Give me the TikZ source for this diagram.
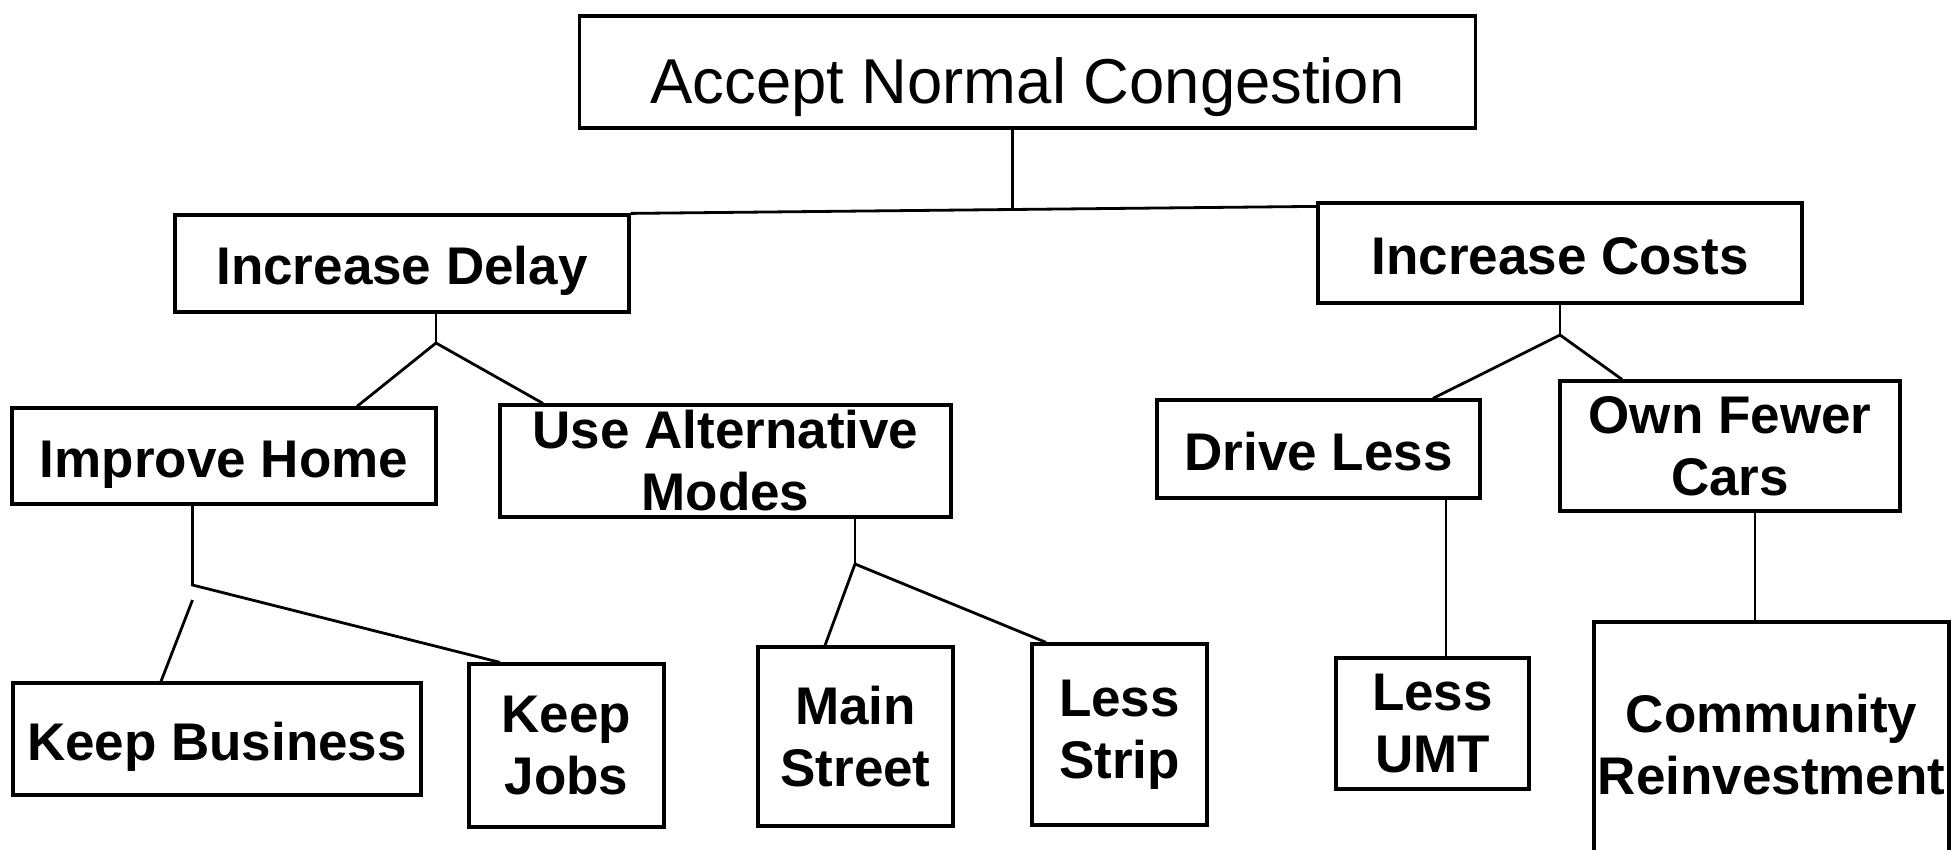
\documentclass[tikz,border=0pt]{standalone}
\usepackage{fontspec}
\setmainfont{Liberation Sans}
\usetikzlibrary{calc}
\newcommand{\lblfont}{\fontsize{26.5pt}{31pt}\selectfont\bfseries}
\newcommand{\topfont}{\fontsize{31.7pt}{36pt}\selectfont}
\tikzstyle{block} = [draw=black, rectangle, line width=1.6pt, inner sep=0pt, align=center, font=\lblfont]
\tikzstyle{single} = [text height=21pt, text depth=0pt]
\tikzstyle{link} = [draw=black, line width=1.4pt]

\begin{document}
\begin{tikzpicture}[x=0.5pt, y=-0.5pt]
	\path[use as bounding box, clip] (0,0) rectangle (1952,850);

	% GOAL
	\node[block, font=\topfont, text height=31.8pt, text depth=0pt, minimum width=448pt, minimum height=56pt] (accept) at (1027.5,72) {Accept Normal Congestion};

	% LEVEL ONE
	\node[block, single, minimum width=227pt, minimum height=48.5pt] (delay) at (402,263.5) {Increase Delay};
	\node[block, single, minimum width=242pt, minimum height=50pt] (costs) at (1560,253) {Increase Costs};

	% LEVEL TWO
	\node[block, single, minimum width=212pt, minimum height=48pt] (home) at (224,456) {Improve Home};
	\node[block, minimum width=225.5pt, minimum height=56pt] (modes) at (725.5,461) {Use Alternative\\Modes};
	\node[block, single, minimum width=161.5pt, minimum height=49pt] (driveless) at (1318.5,449) {Drive Less};
	\node[block, minimum width=170pt, minimum height=65pt] (fewer) at (1730,446) {Own Fewer\\Cars};

	% LEVEL THREE
	\node[block, single, minimum width=204pt, minimum height=56pt] (business) at (217,739) {Keep Business};
	\node[block, minimum width=97.5pt, minimum height=81.5pt] (jobs) at (566.5,745.5) {Keep\\Jobs};
	\node[block, minimum width=97.5pt, minimum height=89.5pt] (street) at (855.5,736.5) {Main\\Street};
	\node[block, minimum width=87.5pt, minimum height=90.5pt] (strip) at (1119.5,734.5) {Less\\Strip};
	\node[block, minimum width=96.5pt, minimum height=65.5pt] (umt) at (1432.5,723.5) {Less\\UMT};
	\node[block, minimum width=177.5pt, minimum height=123pt] (community) at (1771.5,745) {Community\\Reinvestment};

	% JUNCTIONS
	\coordinate (jtop) at ($(accept.south)+(-15,0)$);
	\coordinate (bus) at (0,211);
	\coordinate (jdelay) at (436,343);
	\coordinate (jcosts) at (1560,335);
	\coordinate (jhome) at (192.5,585);
	\coordinate (jhome2) at (192.5,600);
	\coordinate (jmodes) at (855,564);
	\coordinate (jumt) at ($(umt.north)+(13.5,0)$);
	\coordinate (jcomm) at ($(community.north)+(-16.5,0)$);

	\draw [link] (jtop) -- (jtop |- bus);
	\draw [link] (delay.north east) -- ($(costs.north west)+(0,5)$);

	\draw [link] (jdelay |- delay.south) -- (jdelay);
	\draw [link] (jdelay) -- ($(home.north)+(133,0)$);
	\draw [link] (jdelay) -- ($(modes.north)+(-182.5,0)$);

	\draw [link] (costs.south) -- (jcosts);
	\draw [link] (jcosts) -- ($(driveless.north)+(114.5,0)$);
	\draw [link] (jcosts) -- ($(fewer.north)+(-108,0)$);

	\draw [link] (jhome |- home.south) -- (jhome) -- ($(jobs.north)+(-66.5,0)$);
	\draw [link] (jhome2) -- ($(business.north)+(-56,0)$);

	\draw [link] (jmodes |- modes.south) -- (jmodes);
	\draw [link] (jmodes) -- ($(street.north)+(-30.5,0)$);
	\draw [link] (jmodes) -- ($(strip.north)+(-73.5,0)$);

	\draw [link] (jumt) -- (jumt |- driveless.south);
	\draw [link] (jcomm) -- (jcomm |- fewer.south);

\end{tikzpicture}
\end{document}
